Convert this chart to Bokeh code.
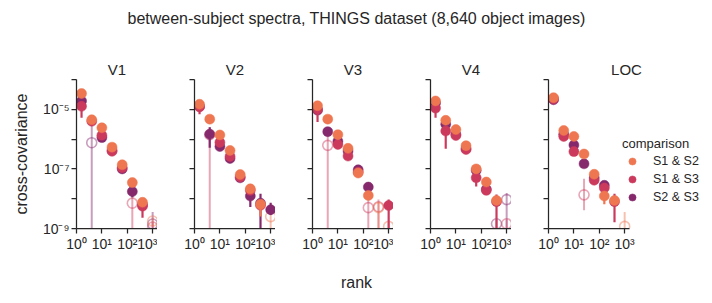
import math
import json
from bokeh.plotting import figure
from bokeh.models import (FixedTicker, CustomJSTickFormatter, Label, Legend,
                          LegendItem, Range1d, ColumnDataSource)
from bokeh.layouts import column, row
from bokeh.embed import file_html
from bokeh.resources import INLINE

# ---------------- data ----------------
TITLE = "between-subject spectra, THINGS dataset (8,640 object images)"
X_LABEL = "rank"
Y_LABEL = "cross-covariance"
LEGEND_TITLE = "comparison"
ROIS = ["V1", "V2", "V3", "V4", "LOC"]
COMPARISONS = ["S1 & S2", "S1 & S3", "S2 & S3"]
COLORS = {"S1 & S2": "#ee7651", "S1 & S3": "#cb3a5d", "S2 & S3": "#86296c"}

# bin centres (rank)
RANK = [1.58, 3.98, 10.0, 25.1, 63.1, 158.0, 398.0, 1000.0]

X_TICKS = [1, 10, 100, 1000]
Y_TICKS = [1e-9, 1e-8, 1e-7, 1e-6, 1e-5, 1e-4]
Y_LABELLED_EXPONENTS = [-9, -7, -5]

# log10(cross-covariance); None = not shown.  -10 in a lower bound = error bar reaches below the axis
V1_VAL = {"S1 & S2": [-4.47, -5.35, -5.62, -6.27, -6.86, -7.46, -8.12, -8.75],
          "S1 & S3": [-4.90, -5.40, -5.87, -6.41, -6.96, -8.15, -8.25, -8.95],
          "S2 & S3": [-4.72, -6.12, -5.95, -6.38, -7.00, -7.76, -8.20, -8.85]}
V1_LO = {"S1 & S2": [-4.55, -5.45, -5.68, -6.32, -6.92, -7.52, -8.18, -8.90],
         "S1 & S3": [-5.28, -5.50, -5.93, -6.47, -7.02, -10, -8.64, -10],
         "S2 & S3": [-4.80, -10, -6.01, -6.43, -7.06, -7.95, -8.26, -10]}
V1_HI = {"S1 & S2": [-4.41, -5.28, -5.57, -6.22, -6.81, -7.41, -8.05, -8.62],
         "S1 & S3": [-4.75, -5.32, -5.82, -6.36, -6.91, -7.82, -8.05, -8.80],
         "S2 & S3": [-4.65, -5.50, -5.90, -6.33, -6.95, -7.65, -8.12, -8.45]}
V1_NEG = {"S1 & S2": [7], "S1 & S3": [5, 7], "S2 & S3": [1, 7]}

V2_VAL = {"S1 & S2": [-4.83, -5.33, -5.86, -6.38, -7.19, -7.67, -8.19, -8.60],
          "S1 & S3": [-4.92, -5.85, -6.11, -6.58, -7.27, -7.72, -8.22, None],
          "S2 & S3": [-4.90, -5.84, -6.25, -6.65, -7.30, -7.91, -8.15, -8.37]}
V2_LO = {"S1 & S2": [-4.88, -5.38, -5.92, -6.43, -7.25, -7.73, -8.60, -10],
         "S1 & S3": [-5.17, -10, -6.17, -6.64, -7.33, -7.78, -8.30, None],
         "S2 & S3": [-4.97, -6.29, -6.32, -6.71, -7.36, -8.28, -10, -8.55]}
V2_HI = {"S1 & S2": [-4.78, -5.28, -5.81, -6.33, -7.13, -7.61, -8.05, -8.45],
         "S1 & S3": [-4.80, -5.60, -6.05, -6.52, -7.21, -7.66, -8.12, None],
         "S2 & S3": [-4.84, -5.60, -6.19, -6.59, -7.24, -7.70, -7.83, -8.14]}
V2_NEG = {"S1 & S2": [7], "S1 & S3": [1], "S2 & S3": []}

V3_VAL = {"S1 & S2": [-4.88, -5.33, -5.85, -6.31, -7.14, -7.89, -8.30, -8.93],
          "S1 & S3": [-5.00, -6.21, -6.18, -6.57, -7.11, -8.30, -8.27, -8.23],
          "S2 & S3": [-5.03, -5.75, -6.07, -6.40, -7.03, -7.61, None, None]}
V3_LO = {"S1 & S2": [-4.93, -5.38, -5.90, -6.36, -7.20, -7.96, -10, -10],
         "S1 & S3": [-5.43, -10, -6.24, -6.63, -7.17, -10, -10, -10],
         "S2 & S3": [-5.08, -5.82, -6.13, -6.45, -7.08, -7.67, None, None]}
V3_HI = {"S1 & S2": [-4.83, -5.28, -5.80, -6.26, -7.08, -7.82, -8.10, -8.80],
         "S1 & S3": [-4.90, -5.80, -6.12, -6.51, -7.05, -7.95, -8.03, -8.03],
         "S2 & S3": [-4.98, -5.68, -6.01, -6.35, -6.98, -7.55, None, None]}
V3_NEG = {"S1 & S2": [6, 7], "S1 & S3": [1, 5, 6], "S2 & S3": []}

V4_VAL = {"S1 & S2": [-4.72, -5.37, -5.68, -6.22, -7.00, -7.44, -8.06, None],
          "S1 & S3": [-4.96, -5.73, -5.88, -6.35, -7.30, -7.72, -8.10, -8.84],
          "S2 & S3": [-4.79, -5.50, -5.84, -6.32, -7.05, -7.68, -8.84, -8.03]}
V4_LO = {"S1 & S2": [-4.77, -5.42, -5.73, -6.27, -7.05, -7.49, -8.15, None],
         "S1 & S3": [-5.28, -6.32, -5.94, -6.41, -7.59, -7.78, -10, -10],
         "S2 & S3": [-4.84, -5.56, -5.90, -6.38, -7.11, -7.74, -10, -10]}
V4_HI = {"S1 & S2": [-4.67, -5.32, -5.63, -6.17, -6.95, -7.39, -7.98, None],
         "S1 & S3": [-4.86, -5.60, -5.82, -6.29, -7.17, -7.66, -7.86, -8.70],
         "S2 & S3": [-4.74, -5.44, -5.78, -6.26, -6.99, -7.62, -8.70, -7.81]}
V4_NEG = {"S1 & S2": [], "S1 & S3": [7], "S2 & S3": [6, 7]}

LOC_VAL = {"S1 & S2": [-4.61, -5.71, -5.91, -6.50, -7.18, -7.91, -8.06, -8.93],
           "S1 & S3": [-4.65, -5.91, -6.42, -7.87, -7.38, -7.64, -8.10, None],
           "S2 & S3": [-4.68, -5.84, -6.20, -6.83, -7.30, -7.55, None, None]}
LOC_LO = {"S1 & S2": [-4.66, -5.76, -5.96, -6.55, -7.23, -8.19, -8.12, -10],
          "S1 & S3": [-4.70, -6.02, -6.48, -8.39, -7.48, -7.70, -8.79, None],
          "S2 & S3": [-4.73, -5.90, -6.26, -6.89, -7.36, -7.61, None, None]}
LOC_HI = {"S1 & S2": [-4.56, -5.66, -5.86, -6.45, -7.13, -7.85, -8.00, -8.45],
          "S1 & S3": [-4.60, -5.82, -6.36, -7.33, -7.30, -7.58, -7.83, None],
          "S2 & S3": [-4.63, -5.78, -6.14, -6.77, -7.24, -7.49, None, None]}
LOC_NEG = {"S1 & S2": [7], "S1 & S3": [3], "S2 & S3": []}

DATA = {"V1": (V1_VAL, V1_LO, V1_HI, V1_NEG),
        "V2": (V2_VAL, V2_LO, V2_HI, V2_NEG),
        "V3": (V3_VAL, V3_LO, V3_HI, V3_NEG),
        "V4": (V4_VAL, V4_LO, V4_HI, V4_NEG),
        "LOC": (LOC_VAL, LOC_LO, LOC_HI, LOC_NEG)}

# ---------------- styling ----------------
FONT = "Liberation Sans"
TXT = "#262626"
X_END = 1550
FRAME_W, FRAME_H = 81, 149
LAST_FRAME_W = 156          # last panel's frame also hosts the legend
DRAW_ORDER = ["S2 & S3", "S1 & S3", "S1 & S2"]

SUP = {"-": "\u207b", "0": "\u2070", "1": "\u00b9", "2": "\u00b2", "3": "\u00b3",
       "4": "\u2074", "5": "\u2075", "6": "\u2076", "7": "\u2077", "8": "\u2078", "9": "\u2079"}
SUP_JS = json.dumps(SUP)

x_fmt = CustomJSTickFormatter(code="""
const sup = %s;
const e = Math.round(Math.log10(tick));
return "10" + String(e).split("").map(c => sup[c]).join("");
""" % SUP_JS)

y_fmt_first = CustomJSTickFormatter(args=dict(keep=Y_LABELLED_EXPONENTS), code="""
const sup = %s;
const e = Math.round(Math.log10(tick));
if (!keep.includes(e)) return "";
return "10" + String(e).split("").map(c => sup[c]).join("");
""" % SUP_JS)

y_fmt_blank = CustomJSTickFormatter(code="return '';")


def style_axis(ax):
    ax.axis_line_color = TXT
    ax.axis_line_width = 1.25
    ax.major_tick_line_color = TXT
    ax.major_tick_line_width = 1.25
    ax.major_tick_out = 5
    ax.major_tick_in = 0
    ax.minor_tick_line_color = None
    ax.major_label_text_font = FONT
    ax.major_label_text_font_size = "14px"
    ax.major_label_text_color = TXT
    ax.major_label_standoff = 2


def to_lin(v):
    return 10.0 ** v


def make_panel(i, roi):
    first = i == 0
    last = i == len(ROIS) - 1
    fw = LAST_FRAME_W if last else FRAME_W
    x_end = 10 ** (math.log10(X_END) * fw / FRAME_W)
    p = figure(x_axis_type="log", y_axis_type="log",
               x_range=Range1d(1, x_end), y_range=Range1d(1e-9, 1e-4),
               frame_width=fw, frame_height=FRAME_H,
               min_border_left=76 if first else 37,
               min_border_right=0,
               min_border_top=31, min_border_bottom=30,
               output_backend="svg", toolbar_location=None,
               outline_line_color=None, background_fill_color="white")
    p.grid.visible = False
    style_axis(p.xaxis[0])
    style_axis(p.yaxis[0])
    p.xaxis[0].bounds = (1, X_END)
    p.xaxis[0].ticker = FixedTicker(ticks=X_TICKS, minor_ticks=[])
    p.yaxis[0].ticker = FixedTicker(ticks=Y_TICKS, minor_ticks=[])
    p.xaxis[0].formatter = x_fmt
    p.yaxis[0].formatter = y_fmt_first if first else y_fmt_blank

    p.title.text = roi
    p.title.align = "center"
    p.title.text_font = FONT
    p.title.text_font_size = "15px"
    p.title.text_font_style = "normal"
    p.title.text_color = TXT
    p.title.standoff = 4
    if last:
        p.title.offset = -(fw - FRAME_W) / 2  # keep title centred over the data area

    vals, los, his, negs = DATA[roi]

    # hollow markers (negative estimates, shown as |value|) drawn first
    for name in DRAW_ORDER:
        c = COLORS[name]
        idx = [k for k in negs[name] if vals[name][k] is not None]
        if not idx:
            continue
        src = ColumnDataSource(dict(
            x=[RANK[k] for k in idx], y=[to_lin(vals[name][k]) for k in idx],
            lo=[to_lin(los[name][k]) for k in idx], hi=[to_lin(his[name][k]) for k in idx]))
        p.segment(x0="x", y0="lo", x1="x", y1="hi", source=src,
                  line_color=c, line_alpha=0.45, line_width=2)
        p.scatter(x="x", y="y", source=src, size=10, marker="circle",
                  fill_color=None, line_color=c, line_alpha=0.45, line_width=1.6)

    solid = {}
    for name in DRAW_ORDER:
        c = COLORS[name]
        idx = [k for k in range(len(RANK))
               if vals[name][k] is not None and k not in negs[name]]
        src = ColumnDataSource(dict(
            x=[RANK[k] for k in idx], y=[to_lin(vals[name][k]) for k in idx],
            lo=[to_lin(los[name][k]) for k in idx], hi=[to_lin(his[name][k]) for k in idx]))
        p.segment(x0="x", y0="lo", x1="x", y1="hi", source=src,
                  line_color=c, line_width=2.2)
        solid[name] = p.scatter(x="x", y="y", source=src, size=10, marker="circle",
                                fill_color=c, line_color=c, line_width=0.5)

    if first:
        ax = p.yaxis[0]
        ax.axis_label = Y_LABEL
        ax.axis_label_text_font = FONT
        ax.axis_label_text_font_size = "16px"
        ax.axis_label_text_font_style = "normal"
        ax.axis_label_text_color = TXT
        ax.axis_label_standoff = 10
    if last:
        items = [LegendItem(label=n, renderers=[solid[n]]) for n in COMPARISONS]
        leg = Legend(items=items, location=(74, 22), title=LEGEND_TITLE,
                     title_text_font=FONT, title_text_font_size="13px",
                     title_text_font_style="normal", title_text_color=TXT,
                     title_standoff=1,
                     label_text_font=FONT, label_text_font_size="12.5px",
                     label_text_color=TXT, label_standoff=11,
                     glyph_width=20, glyph_height=18, label_height=18,
                     spacing=0, padding=0, margin=0,
                     border_line_color=None, background_fill_alpha=0)
        p.add_layout(leg, "center")
    return p


panels = [make_panel(i, r) for i, r in enumerate(ROIS)]
TOTAL_W = 704


def text_strip(height, text, y_from_top):
    f = figure(width=TOTAL_W, height=height, x_range=Range1d(0, 1), y_range=Range1d(0, height),
               x_axis_location=None, y_axis_location=None, min_border=0,
               output_backend="svg", toolbar_location=None, outline_line_color=None)
    f.grid.visible = False
    f.add_layout(Label(x=356 / TOTAL_W, y=height - y_from_top, text=text, text_align="center",
                       text_baseline="middle", text_font=FONT, text_font_size="16px",
                       text_color=TXT))
    return f


top = text_strip(48, TITLE, 18)
bottom = text_strip(40, X_LABEL, 24)

layout = column(top, row(*panels, spacing=0), bottom, spacing=0)
open("out.html", "w").write(file_html(layout, INLINE))
